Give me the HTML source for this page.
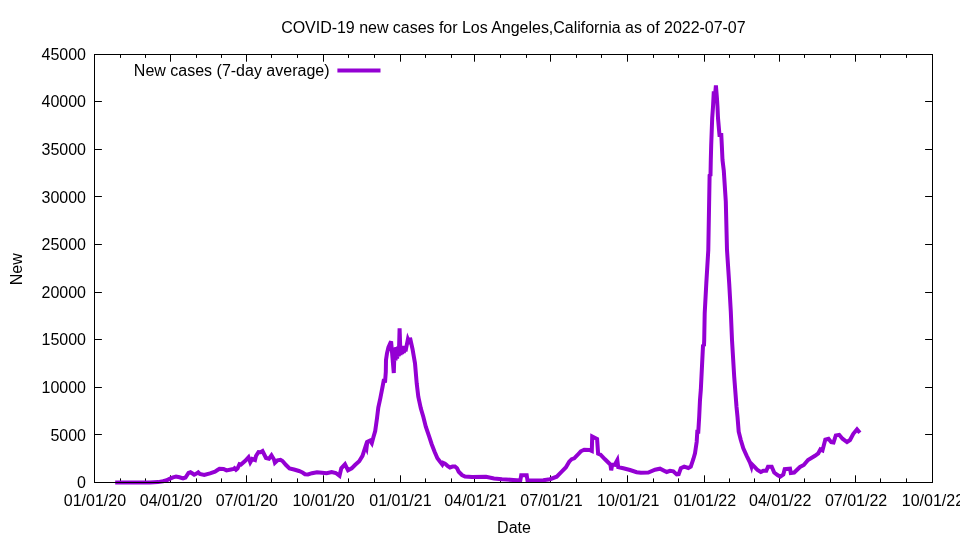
<!DOCTYPE html>
<html><head><meta charset="utf-8"><title>COVID-19 new cases</title>
<style>html,body{margin:0;padding:0;background:#fff;width:960px;height:540px;overflow:hidden}svg{display:block}text{font-family:"Liberation Sans",Arial,sans-serif;font-size:16px;fill:#000}</style></head><body>
<svg width="960" height="540" viewBox="0 0 960 540">
<rect width="960" height="540" fill="#fff"/>
<g stroke="#000" stroke-width="1" fill="none">
<path d="M94.5,482.5h7.4M932.5,482.5h-7.4"/>
<path d="M94.5,434.5h7.4M932.5,434.5h-7.4"/>
<path d="M94.5,387.5h7.4M932.5,387.5h-7.4"/>
<path d="M94.5,339.5h7.4M932.5,339.5h-7.4"/>
<path d="M94.5,292.5h7.4M932.5,292.5h-7.4"/>
<path d="M94.5,244.5h7.4M932.5,244.5h-7.4"/>
<path d="M94.5,196.5h7.4M932.5,196.5h-7.4"/>
<path d="M94.5,149.5h7.4M932.5,149.5h-7.4"/>
<path d="M94.5,101.5h7.4M932.5,101.5h-7.4"/>
<path d="M94.5,54.5h7.4M932.5,54.5h-7.4"/>
<path d="M94.5,482.5v-7.2M94.5,54.5v7.2"/>
<path d="M170.5,482.5v-7.2M170.5,54.5v7.2"/>
<path d="M246.5,482.5v-7.2M246.5,54.5v7.2"/>
<path d="M323.5,482.5v-7.2M323.5,54.5v7.2"/>
<path d="M400.5,482.5v-7.2M400.5,54.5v7.2"/>
<path d="M474.5,482.5v-7.2M474.5,54.5v7.2"/>
<path d="M550.5,482.5v-7.2M550.5,54.5v7.2"/>
<path d="M627.5,482.5v-7.2M627.5,54.5v7.2"/>
<path d="M704.5,482.5v-7.2M704.5,54.5v7.2"/>
<path d="M779.5,482.5v-7.2M779.5,54.5v7.2"/>
<path d="M855.5,482.5v-7.2M855.5,54.5v7.2"/>
<path d="M932.5,482.5v-7.2M932.5,54.5v7.2"/>
<path d="M120.5,482.5v-4.1M120.5,54.5v3.4"/>
<path d="M145.5,482.5v-4.1M145.5,54.5v3.4"/>
<path d="M196.5,482.5v-4.1M196.5,54.5v3.4"/>
<path d="M221.5,482.5v-4.1M221.5,54.5v3.4"/>
<path d="M271.5,482.5v-4.1M271.5,54.5v3.4"/>
<path d="M297.5,482.5v-4.1M297.5,54.5v3.4"/>
<path d="M348.5,482.5v-4.1M348.5,54.5v3.4"/>
<path d="M374.5,482.5v-4.1M374.5,54.5v3.4"/>
<path d="M425.5,482.5v-4.1M425.5,54.5v3.4"/>
<path d="M451.5,482.5v-4.1M451.5,54.5v3.4"/>
<path d="M500.5,482.5v-4.1M500.5,54.5v3.4"/>
<path d="M526.5,482.5v-4.1M526.5,54.5v3.4"/>
<path d="M576.5,482.5v-4.1M576.5,54.5v3.4"/>
<path d="M601.5,482.5v-4.1M601.5,54.5v3.4"/>
<path d="M653.5,482.5v-4.1M653.5,54.5v3.4"/>
<path d="M678.5,482.5v-4.1M678.5,54.5v3.4"/>
<path d="M729.5,482.5v-4.1M729.5,54.5v3.4"/>
<path d="M754.5,482.5v-4.1M754.5,54.5v3.4"/>
<path d="M804.5,482.5v-4.1M804.5,54.5v3.4"/>
<path d="M830.5,482.5v-4.1M830.5,54.5v3.4"/>
<path d="M880.5,482.5v-4.1M880.5,54.5v3.4"/>
<path d="M906.5,482.5v-4.1M906.5,54.5v3.4"/>
</g>
<path d="M115.2,482.4 L150.0,482.4 L158.0,482.1 L163.0,481.3 L166.7,480.3 L170.0,478.6 L173.0,477.3 L176.0,476.6 L179.5,477.3 L183.0,478.3 L185.5,477.5 L188.5,473.0 L190.5,472.3 L192.5,473.5 L194.2,474.7 L196.5,473.6 L198.2,472.4 L199.8,474.0 L204.2,475.0 L210.0,473.3 L215.0,471.6 L217.5,470.0 L219.5,468.7 L223.5,468.9 L226.5,470.4 L231.0,469.5 L233.5,469.0 L234.5,468.2 L236.0,469.8 L237.5,468.5 L239.5,464.2 L241.0,464.6 L245.0,461.0 L248.5,457.3 L250.3,462.3 L252.2,459.0 L255.0,460.0 L256.0,456.0 L258.5,452.0 L260.5,452.2 L262.5,451.1 L264.5,455.0 L266.0,458.0 L269.0,458.8 L271.5,455.4 L274.0,459.5 L274.9,462.8 L277.5,460.3 L280.5,459.8 L282.5,461.0 L286.0,465.0 L289.5,468.4 L294.0,469.5 L299.0,471.0 L302.5,472.5 L305.0,474.2 L308.0,474.5 L312.0,473.2 L317.0,472.2 L322.0,472.8 L326.7,473.3 L331.7,472.0 L335.8,473.0 L339.5,475.8 L341.3,468.3 L345.0,464.2 L348.0,470.3 L351.7,468.3 L355.0,465.0 L359.2,461.3 L362.5,455.8 L364.2,450.5 L365.6,446.2 L366.5,448.2 L367.3,441.8 L370.0,440.6 L371.8,443.2 L373.4,437.3 L375.2,431.0 L377.0,418.3 L378.3,407.5 L380.3,398.3 L382.7,386.0 L384.0,379.0 L385.0,382.6 L385.8,372.0 L386.0,360.0 L387.0,353.3 L388.4,347.5 L391.1,341.4 L393.8,373.0 L394.6,347.6 L395.5,360.5 L396.3,347.2 L397.1,358.5 L398.0,346.6 L398.8,356.5 L399.6,328.4 L400.5,355.0 L401.3,345.9 L402.1,354.0 L403.0,345.9 L403.8,353.0 L404.6,345.9 L405.5,351.3 L407.9,339.3 L409.8,343.8 L410.0,337.8 L412.5,349.0 L415.0,363.3 L416.7,383.3 L418.3,396.7 L420.8,408.3 L423.3,416.7 L425.8,426.7 L429.2,436.7 L431.7,444.2 L434.6,451.7 L437.4,458.3 L440.5,462.3 L442.3,464.6 L443.2,462.8 L445.0,463.6 L447.5,465.8 L450.0,467.5 L452.5,466.6 L455.0,466.5 L457.0,468.2 L458.7,471.7 L462.0,475.0 L465.0,476.5 L472.0,477.0 L486.0,476.8 L494.0,478.4 L502.0,479.2 L513.3,480.0 L520.3,480.5 L521.2,475.3 L526.7,475.3 L527.5,480.5 L533.3,480.5 L543.3,480.3 L550.0,479.2 L556.7,476.7 L561.7,471.7 L565.8,467.5 L569.2,461.7 L571.7,459.2 L574.2,458.3 L577.5,455.0 L580.8,451.3 L584.2,449.7 L589.5,450.0 L591.8,451.0 L592.2,436.5 L597.1,439.0 L598.1,453.6 L600.5,454.6 L605.0,459.3 L609.3,463.5 L610.4,464.6 L611.2,470.3 L612.2,464.6 L614.8,464.8 L617.3,460.2 L618.2,467.1 L623.3,468.3 L630.0,470.0 L636.7,472.2 L640.8,472.8 L648.3,472.5 L655.0,469.7 L660.0,468.7 L666.7,472.0 L670.0,470.8 L673.3,471.3 L676.7,474.5 L678.7,474.2 L680.8,468.3 L684.2,466.7 L688.3,468.0 L690.8,466.7 L693.3,459.2 L695.0,453.3 L696.7,441.7 L697.3,431.7 L698.3,431.7 L699.2,416.7 L700.0,400.0 L700.8,390.0 L703.0,345.8 L704.0,345.0 L704.2,340.0 L704.7,313.3 L706.3,283.3 L708.3,250.0 L709.6,175.6 L710.5,175.0 L710.8,160.0 L711.2,145.0 L712.2,118.0 L713.0,107.0 L713.8,91.3 L714.9,97.0 L715.9,85.3 L717.0,99.0 L717.5,107.0 L718.0,118.0 L719.3,133.0 L719.5,135.0 L721.3,135.0 L721.8,145.0 L722.5,160.0 L723.8,170.8 L725.8,201.7 L727.0,250.0 L729.2,283.3 L730.8,311.7 L732.0,340.0 L734.2,376.7 L736.5,406.7 L737.5,416.7 L738.7,431.7 L740.8,440.0 L743.3,448.3 L746.7,455.8 L749.9,462.3 L751.4,466.5 L751.9,464.2 L755.0,467.3 L757.5,470.0 L760.8,472.0 L763.3,470.8 L766.3,470.8 L768.0,466.7 L771.7,466.7 L774.2,472.5 L777.5,475.0 L780.3,476.7 L783.3,474.5 L784.7,469.2 L790.0,468.7 L790.8,473.0 L794.2,472.5 L800.0,467.0 L803.8,465.0 L808.0,460.0 L815.0,455.8 L818.3,453.3 L820.4,449.4 L822.5,450.4 L825.3,439.6 L828.5,438.7 L831.2,442.2 L833.5,442.5 L835.8,435.4 L839.2,434.8 L842.5,438.7 L847.0,442.0 L850.0,440.0 L853.3,433.8 L857.0,429.4 L859.9,432.8" stroke="#9400d3" stroke-width="4" fill="none" stroke-linejoin="miter" stroke-miterlimit="3.8" stroke-linecap="butt"/>
<rect stroke="#000" stroke-width="1" fill="none" x="94.5" y="54.5" width="838.0" height="428.0"/>
<g text-anchor="end">
<text x="86" y="488.20">0</text>
<text x="86" y="440.60">5000</text>
<text x="86" y="393.00">10000</text>
<text x="86" y="345.40">15000</text>
<text x="86" y="297.80">20000</text>
<text x="86" y="250.20">25000</text>
<text x="86" y="202.60">30000</text>
<text x="86" y="155.00">35000</text>
<text x="86" y="107.40">40000</text>
<text x="86" y="59.80">45000</text>
</g>
<g text-anchor="middle">
<text x="94.9" y="506">01/01/20</text>
<text x="170.9" y="506">04/01/20</text>
<text x="246.8" y="506">07/01/20</text>
<text x="323.6" y="506">10/01/20</text>
<text x="400.4" y="506">01/01/21</text>
<text x="475.5" y="506">04/01/21</text>
<text x="551.5" y="506">07/01/21</text>
<text x="628.2" y="506">10/01/21</text>
<text x="705.0" y="506">01/01/22</text>
<text x="780.2" y="506">04/01/22</text>
<text x="856.1" y="506">07/01/22</text>
<text x="932.9" y="506">10/01/22</text>
<text x="514" y="533">Date</text>
<text x="513.4" y="32.7" textLength="464.5" lengthAdjust="spacing">COVID-19 new cases for Los Angeles,California as of 2022-07-07</text>
<text transform="translate(21.5,269.3) rotate(-90)">New</text>
</g>
<text x="329.5" y="75.5" text-anchor="end">New cases (7-day average)</text>
<path d="M337.4,70.4H380.5" stroke="#9400d3" stroke-width="4" fill="none"/>
</svg></body></html>
